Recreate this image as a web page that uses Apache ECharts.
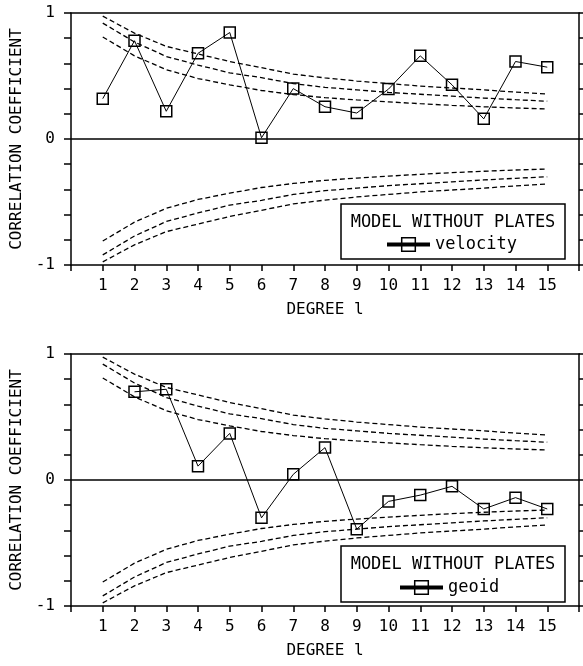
<!DOCTYPE html>
<html>
<head>
<meta charset="utf-8">
<script src="https://cdn.jsdelivr.net/npm/echarts@6/dist/echarts.min.js"></script>
<style>
html,body{margin:0;padding:0;background:#fff;}
#chart{width:583px;height:666px;}
</style>
</head>
<body>
<div id="chart"></div>
<script>
// ---- data ----
const degrees = [1, 2, 3, 4, 5, 6, 7, 8, 9, 10, 11, 12, 13, 14, 15];
const velocity = [0.32, 0.78, 0.22, 0.68, 0.845, 0.01, 0.40, 0.256, 0.206, 0.396, 0.66, 0.43, 0.16, 0.615, 0.57];
const geoid = [null, 0.70, 0.72, 0.11, 0.37, -0.30, 0.045, 0.257, -0.39, -0.17, -0.12, -0.05, -0.23, -0.14, -0.23];
// confidence curves (positive side; the negative side mirrors them)
const confHigh = [0.975, 0.84, 0.735, 0.675, 0.615, 0.566, 0.515, 0.485, 0.46, 0.44, 0.42, 0.405, 0.39, 0.372, 0.357];
const confMid = [0.92, 0.77, 0.655, 0.587, 0.525, 0.487, 0.44, 0.41, 0.39, 0.37, 0.355, 0.34, 0.325, 0.312, 0.30];
const confLow = [0.81, 0.66, 0.55, 0.48, 0.43, 0.385, 0.353, 0.328, 0.31, 0.295, 0.28, 0.267, 0.256, 0.246, 0.238];
const yTickLabels = { '1': '1', '0': '0', '-1': '-1' };
const legendTitle = 'MODEL WITHOUT PLATES';
const xName = 'DEGREE l';
const yName = 'CORRELATION COEFFICIENT';

// ---- chart ----
const FONT = '"DejaVu Sans Mono", "Liberation Mono", monospace';
const chart = echarts.init(document.getElementById('chart'), null, { renderer: 'canvas' });

function pairs(vals, sign) {
  const out = [];
  degrees.forEach((d, i) => { if (vals[i] !== null) out.push([d, sign * vals[i]]); });
  return out;
}

const grids = [
  { left: 71, top: 13, width: 508, height: 252 },
  { left: 71, top: 354, width: 508, height: 252 }
];

const xAxes = [], yAxes = [], series = [];
grids.forEach((g, gi) => {
  xAxes.push({
    type: 'value', gridIndex: gi, position: 'bottom', min: 0, max: 16, interval: 1,
    name: xName, nameLocation: 'middle', nameGap: 37,
    nameTextStyle: { fontFamily: FONT, fontSize: 16, color: '#000' },
    axisLine: { onZero: false, lineStyle: { color: '#000', width: 1.5 } },
    axisTick: { inside: false, length: 6, lineStyle: { color: '#000', width: 1.5 } },
    axisLabel: { margin: 13, fontFamily: FONT, fontSize: 16, color: '#000',
      formatter: v => (v >= 1 && v <= 15) ? String(v) : '' },
    splitLine: { show: false }
  });
  xAxes.push({
    type: 'value', gridIndex: gi, position: 'top', min: 0, max: 16,
    axisLine: { show: true, onZero: false, lineStyle: { color: '#000', width: 1.5 } },
    axisTick: { show: false }, axisLabel: { show: false }, splitLine: { show: false }
  });
  yAxes.push({
    type: 'value', gridIndex: gi, position: 'left', min: -1, max: 1, interval: 0.2,
    name: yName, nameLocation: 'middle', nameGap: 46,
    nameTextStyle: { fontFamily: FONT, fontSize: 16, color: '#000' },
    axisLine: { show: true, onZero: false, lineStyle: { color: '#000', width: 1.5 } },
    axisTick: { show: true, inside: false, length: 7, lineStyle: { color: '#000', width: 1.5 } },
    axisLabel: { margin: 16, fontFamily: FONT, fontSize: 16, color: '#000',
      formatter: v => { const k = String(Math.round(v * 10) / 10); return yTickLabels[k] || ''; } },
    splitLine: { show: false }
  });
  yAxes.push({
    type: 'value', gridIndex: gi, position: 'right', min: -1, max: 1, interval: 0.2,
    axisLine: { show: true, onZero: false, lineStyle: { color: '#000', width: 1.5 } },
    axisTick: { show: true, inside: false, length: 4, lineStyle: { color: '#000', width: 1.5 } },
    axisLabel: { show: false }, splitLine: { show: false }
  });
  const xi = gi * 2, yi = gi * 2;
  [confHigh, confMid, confLow].forEach(c => {
    [1, -1].forEach(s => {
      series.push({
        type: 'line', xAxisIndex: xi, yAxisIndex: yi, data: pairs(c, s),
        showSymbol: false, symbol: 'none', silent: true, smooth: false,
        lineStyle: { color: '#000', width: 1.3, type: [5, 3] }, z: 2
      });
    });
  });
  const name = gi === 0 ? 'velocity' : 'geoid';
  series.push({
    name: name, type: 'line', xAxisIndex: xi, yAxisIndex: yi,
    data: pairs(gi === 0 ? velocity : geoid, 1),
    symbol: 'rect', symbolSize: 11, showSymbol: true,
    lineStyle: { color: '#000', width: 1 },
    itemStyle: { color: 'rgba(255,255,255,0)', borderColor: '#000', borderWidth: 1.5 },
    markLine: {
      silent: true, symbol: 'none', label: { show: false },
      lineStyle: { color: '#000', width: 1.5, type: 'solid' },
      data: [{ yAxis: 0 }]
    },
    z: 3
  });
});

const legendBoxes = [
  { x: 341, y: 204, w: 224, h: 55, itemLeft: 385, itemTop: 236 },
  { x: 341, y: 546, w: 224, h: 56, itemLeft: 398, itemTop: 579 }
];

const graphics = [];
legendBoxes.forEach(b => {
  graphics.push({ type: 'rect', shape: { x: b.x, y: b.y, width: b.w, height: b.h },
    style: { fill: '#fff', stroke: '#000', lineWidth: 1.5 }, z: 10 });
  graphics.push({ type: 'text', x: b.x + b.w / 2, y: b.y + 19,
    style: { text: legendTitle, fontFamily: FONT, fontSize: 17, fill: '#000', align: 'center', verticalAlign: 'middle' }, z: 11 });
});

const legends = ['velocity', 'geoid'].map((n, i) => ({
  data: [n],
  left: legendBoxes[i].itemLeft, top: legendBoxes[i].itemTop,
  itemWidth: 43, itemHeight: 17, itemGap: 0, padding: 0,
  textStyle: { fontFamily: FONT, fontSize: 17, color: '#000' },
  lineStyle: { width: 4, color: '#000' },
  itemStyle: { color: 'rgba(255,255,255,0)', borderColor: '#000', borderWidth: 1.5 },
  z: 12, selectedMode: false
}));

chart.setOption({
  animation: false,
  backgroundColor: '#fff',
  grid: grids,
  xAxis: xAxes,
  yAxis: yAxes,
  series: series,
  legend: legends,
  graphic: graphics
});
</script>
</body>
</html>
